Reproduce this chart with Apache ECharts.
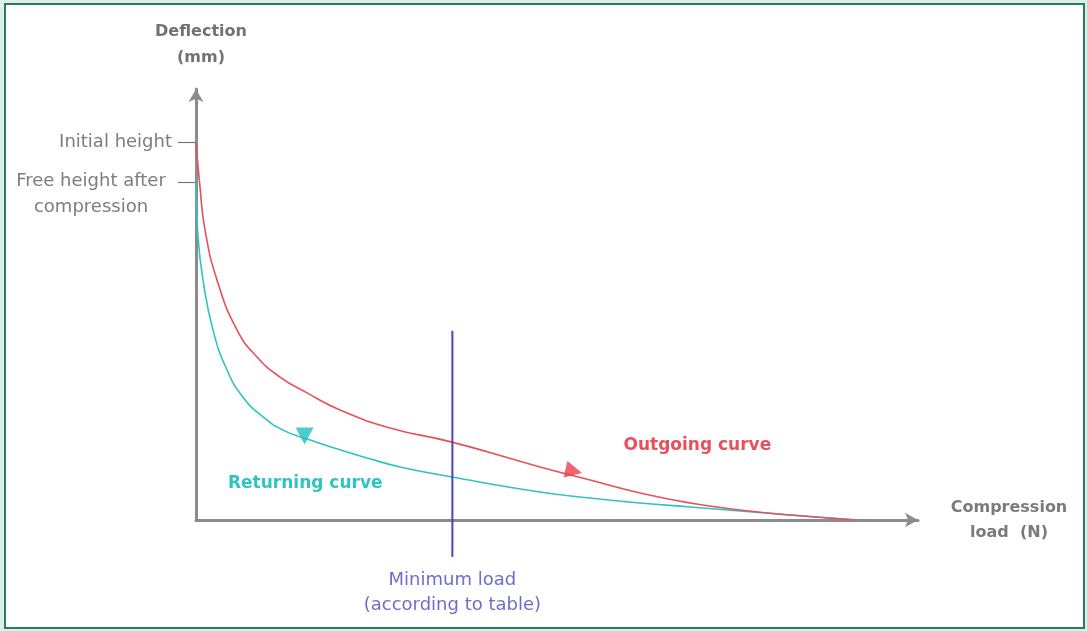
<!DOCTYPE html>
<html>
<head>
<meta charset="utf-8">
<script src="https://cdn.jsdelivr.net/npm/echarts@6/dist/echarts.min.js"></script>
<style>
  html, body { margin: 0; padding: 0; width: 1087px; height: 631px; background: #dcefed; overflow: hidden; }
  #frame { position: absolute; left: 4px; top: 3px; width: 1077px; height: 622px; border: 2px solid #2d7a58; background: #ffffff; }
  #chart { position: absolute; left: 0; top: 0; width: 1087px; height: 631px; }
</style>
</head>
<body>
<div id="frame"></div>
<div id="chart"></div>
<script>
// ---- data (axis units: 0..~100 on both axes) ----
const outgoingX = [0, 0.56, 1.26, 2.94, 5.74, 8.54, 11.76, 15.55, 20.17, 27.17, 35.85, 48.18, 55.18, 62.18, 69.19, 76.19, 83.19, 92.58];
const outgoingY = [88.3, 77.8, 67.8, 56.1, 44.4, 38.1, 33.4, 29.7, 25.7, 21.5, 18.2, 12.4, 9.35, 6.3, 3.97, 2.34, 1.17, 0];
const returningX = [0, 0.28, 0.98, 2.38, 4.34, 6.58, 9.38, 12.18, 15.55, 20.17, 23.95, 28.57, 35.85, 48.18, 55.18, 62.18, 69.19, 76.19, 83.19, 92.58];
const returningY = [79.0, 66.1, 56.1, 44.4, 35.05, 28.7, 24.1, 21.0, 18.9, 16.4, 14.5, 12.4, 10.05, 6.54, 5.14, 3.97, 3.04, 2.1, 1.17, 0];
const minLoadX = 35.9;
const minLoadY = [-8.6, 44.2];
const initialHeight = 88.3;
const freeHeight = 79.0;
const outgoingArrow = [52.9, 11.4];
const returningArrow = [15.2, 19.6];
const outgoingLabelAt = [70.2, 17.5];
const returningLabelAt = [15.3, 8.4];
const yTickLabels = ['Initial height', 'Free height after\ncompression'];
const xName = 'Compression\nload  (N)';
const yName = 'Deflection\n(mm)';
const minLoadLabel = 'Minimum load\n(according to table)';
const curveNames = ['Outgoing curve', 'Returning curve'];

// ---- styles ----
const FONT = 'DejaVu Sans';
const AXIS_GRAY = '#8c8c8c';
const TEXT_GRAY = '#7d7d7d';
const RED = '#e8505c';
const TEAL = '#2fc3c3';
const BLUE = '#4444c2';

const zip = (xs, ys) => xs.map((x, i) => [x, ys[i]]);

const chart = echarts.init(document.getElementById('chart'), null, { renderer: 'canvas' });

const baseY = {
  type: 'value', min: 0, max: 100.7, position: 'left',
  splitLine: { show: false }
};

chart.setOption({
  animation: false,
  backgroundColor: 'transparent',
  grid: { left: 196, top: 89, right: 169, bottom: 111, containLabel: false },
  xAxis: {
    type: 'value', min: 0, max: 101.1,
    name: xName, nameLocation: 'end', nameGap: 91,
    nameTextStyle: { fontFamily: FONT, fontSize: 16, fontWeight: 'bold', color: '#7a7a7a', align: 'center', lineHeight: 25, padding: [0, 0, 8, 0] },
    axisLine: { show: true, onZero: false, symbol: ['none', 'arrow'], symbolSize: [11, 13], lineStyle: { color: AXIS_GRAY, width: 3 } },
    axisTick: { show: false }, axisLabel: { show: false }, splitLine: { show: false }
  },
  yAxis: [
    Object.assign({}, baseY, {
      name: yName, nameLocation: 'end', nameGap: 18,
      nameTextStyle: { fontFamily: FONT, fontSize: 16, fontWeight: 'bold', color: '#727272', lineHeight: 26, align: 'center', padding: [0, 0, 0, 10] },
      axisLine: { show: true, onZero: false, symbol: ['none', 'arrow'], symbolSize: [11, 13], lineStyle: { color: AXIS_GRAY, width: 3 } },
      axisTick: { show: true, customValues: [initialHeight], length: 18, lineStyle: { color: '#777777', width: 1.2 } },
      axisLabel: { show: true, customValues: [initialHeight], margin: 24, fontFamily: FONT, fontSize: 18, color: TEXT_GRAY, formatter: () => yTickLabels[0] }
    }),
    Object.assign({}, baseY, {
      axisLine: { show: false },
      axisTick: { show: true, customValues: [freeHeight], length: 18, lineStyle: { color: '#777777', width: 1.2 } },
      axisLabel: { show: true, customValues: [freeHeight - 3.0], margin: 105, align: 'center', lineHeight: 26, fontFamily: FONT, fontSize: 18, color: TEXT_GRAY, formatter: () => yTickLabels[1] }
    })
  ],
  series: [
    {
      name: curveNames[0], type: 'line', data: zip(outgoingX, outgoingY),
      smooth: 0.5, showSymbol: false, symbol: 'none',
      lineStyle: { color: RED, width: 1.6 }, z: 3,
      markPoint: {
        symbol: 'circle', symbolSize: 0, silent: true,
        data: [{ coord: outgoingLabelAt, value: curveNames[0] }],
        label: { show: true, position: 'inside', formatter: p => p.value, fontFamily: FONT, fontSize: 17, fontWeight: 'bold', color: RED }
      }
    },
    {
      name: curveNames[1], type: 'line', data: zip(returningX, returningY),
      smooth: 0.5, showSymbol: false, symbol: 'none',
      lineStyle: { color: TEAL, width: 1.6 }, z: 2,
      markPoint: {
        symbol: 'circle', symbolSize: 0, silent: true,
        data: [{ coord: returningLabelAt, value: curveNames[1] }],
        label: { show: true, position: 'inside', formatter: p => p.value, fontFamily: FONT, fontSize: 17, fontWeight: 'bold', color: TEAL }
      }
    },
    {
      type: 'line', data: minLoadY.map(y => [minLoadX, y]),
      clip: false, symbol: 'none', showSymbol: false,
      lineStyle: { color: BLUE, width: 2 }, z: 4
    },
    {
      type: 'scatter', clip: false, silent: true, z: 4,
      symbol: 'circle', symbolSize: 1, itemStyle: { color: 'rgba(0,0,0,0)' },
      data: [[minLoadX, minLoadY[0]]],
      label: { show: true, position: 'bottom', distance: 11, formatter: () => minLoadLabel, fontFamily: FONT, fontSize: 18, lineHeight: 25, color: '#4848c0', align: 'center' }
    },
    {
      type: 'scatter', symbol: 'triangle', z: 5, silent: true,
      data: [
        { value: outgoingArrow, symbolRotate: -103, symbolSize: [17, 17], itemStyle: { color: '#ef3f4a' } },
        { value: returningArrow, symbolRotate: 180, symbolSize: [18, 17], itemStyle: { color: '#1fc0c0' } }
      ]
    }
  ]
});
</script>
</body>
</html>
